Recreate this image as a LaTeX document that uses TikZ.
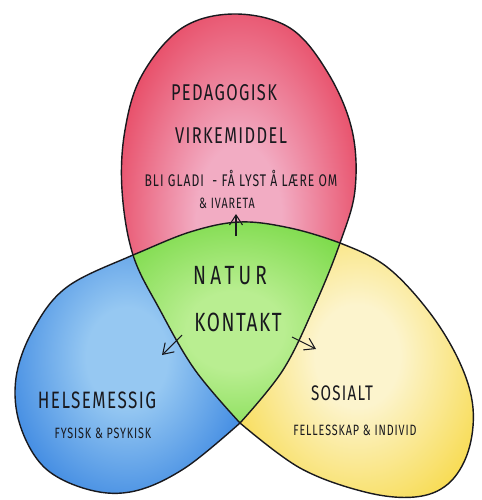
\documentclass[tikz,border=0pt]{standalone}
\usepackage{fontspec}
\usepackage{xcolor}
\usepackage{tikz}
\usetikzlibrary{arrows.meta}
\newfontfamily\handfont{Fira Sans}[FakeStretch=0.72,LetterSpace=6]

\definecolor{inkblack}{RGB}{25, 25, 30}
\definecolor{redout}{RGB}{226, 24, 52}
\definecolor{redin}{RGB}{242, 172, 195}
\definecolor{greenout}{RGB}{92, 208, 36}
\definecolor{greenin}{RGB}{185, 238, 145}
\definecolor{blueout}{RGB}{22, 108, 218}
\definecolor{bluein}{RGB}{150, 200, 242}
\definecolor{yellowout}{RGB}{246, 210, 36}
\definecolor{yellowin}{RGB}{252, 244, 205}

\pgfdeclareradialshading[washin,washout]{wash}{\pgfpoint{0bp}{0bp}}{%
  color(0bp)=(washin); color(9bp)=(washin); color(38bp)=(washout); color(50bp)=(washout)}

\begin{document}
\begin{tikzpicture}[
  x=0.02cm, y=0.02cm,
  wash/.code 2 args={\colorlet{washin}{#1}\colorlet{washout}{#2}},
  outline/.style={draw=inkblack, line width=0.8pt, line join=round},
  bigtxt/.style={font=\handfont\fontsize{13}{16}\selectfont, text=inkblack, inner sep=0pt},
  midtxt/.style={font=\handfont\fontsize{13.5}{16}\selectfont, text=inkblack, inner sep=0pt},
  smalltxt/.style={font=\handfont\fontsize{8.5}{10}\selectfont, text=inkblack, inner sep=0pt},
  pointer/.style={-{Straight Barb[length=2mm, width=2.6mm]}, draw=inkblack, line width=0.6pt}
]
  \useasboundingbox (0,0) rectangle (481,-500);

  % Blaa: helsemessig
  \def\bluepath{plot[smooth, tension=0.6] coordinates {(240,-423) (215,-330) (190,-232) (133,-255)
    (67,-287) (33,-330) (16,-378) (20,-425) (45,-468) (90,-490) (135,-491) (185,-468) (240,-423)} -- cycle}
  \shade[shading=wash, wash={bluein}{blueout}] \bluepath;
  \draw[outline] \bluepath;

  % Gul: sosialt
  \def\yellowpath{plot[smooth, tension=0.6] coordinates {(240,-423) (265,-330) (290,-228) (340,-243)
    (387,-267) (430,-313) (460,-363) (473,-408) (468,-452) (448,-484) (415,-497) (365,-492)
    (300,-468) (240,-423)} -- cycle}
  \shade[shading=wash, wash={yellowin}{yellowout}] \yellowpath;
  \draw[outline] \yellowpath;

  % Roed: pedagogisk virkemiddel
  \def\redpath{plot[smooth, tension=0.6] coordinates {(240,-423) (283,-370) (315,-305) (340,-243)
    (355,-190) (352,-130) (328,-73) (290,-28) (235,-14) (182,-28) (142,-75) (125,-130)
    (122,-190) (133,-255) (160,-310) (195,-370) (240,-423)} -- cycle}
  \shade[shading=wash, wash={redin}{redout}] \redpath;

  % Groen: naturkontakt (midten)
  \begin{scope}
    \clip \redpath;
    \shade[shading=wash, wash={greenin}{greenout}]
      plot[smooth, tension=0.6] coordinates {(100,-268) (133,-255) (190,-232) (240,-222)
      (290,-228) (340,-243) (370,-258)} -- (370,-440) -- (100,-440) -- cycle;
    \draw[outline] plot[smooth, tension=0.6] coordinates {(100,-268) (133,-255) (190,-232)
      (240,-222) (290,-228) (340,-243) (370,-258)};
  \end{scope}
  \draw[outline] \redpath;

  % Tekster
  \node[bigtxt] (ped) at (224,-93) {PEDAGOGISK};
  \node[bigtxt] (virk) at (231,-136) {VIRKEMIDDEL};
  \node[smalltxt, font=\handfont\fontsize{9.6}{11}\selectfont] (bli) at (241,-178) {BLI GLADI\ \ - FÅ LYST Å LÆRE OM};
  \node[smalltxt] (ivar) at (227,-203) {\& IVARETA};
  \node[bigtxt, font=\handfont\fontsize{15}{18}\selectfont\addfontfeature{LetterSpace=16}] (natur) at (230,-276) {NATUR};
  \node[bigtxt, font=\handfont\fontsize{15}{18}\selectfont] (kontakt) at (238,-322) {KONTAKT};
  \node[midtxt] (helse) at (97,-400) {HELSEMESSIG};
  \node[smalltxt] (fysisk) at (103,-433) {FYSISK \& PSYKISK};
  \node[midtxt, font=\handfont\fontsize{12}{14}\selectfont] (sosialt) at (342,-393) {SOSIALT};
  \node[smalltxt] (felles) at (355,-430) {FELLESSKAP \& INDIVID};

  % Piler ut fra midten
  \coordinate (upfrom) at (236,-236);
  \coordinate (upto) at (236,-214);
  \coordinate (leftfrom) at (182,-335);
  \coordinate (leftto) at (162,-355);
  \coordinate (rightfrom) at (292,-337);
  \coordinate (rightto) at (316,-349);
  \draw[pointer] (upfrom) -- (upto);
  \draw[pointer] (leftfrom) -- (leftto);
  \draw[pointer] (rightfrom) -- (rightto);
\end{tikzpicture}
\end{document}
